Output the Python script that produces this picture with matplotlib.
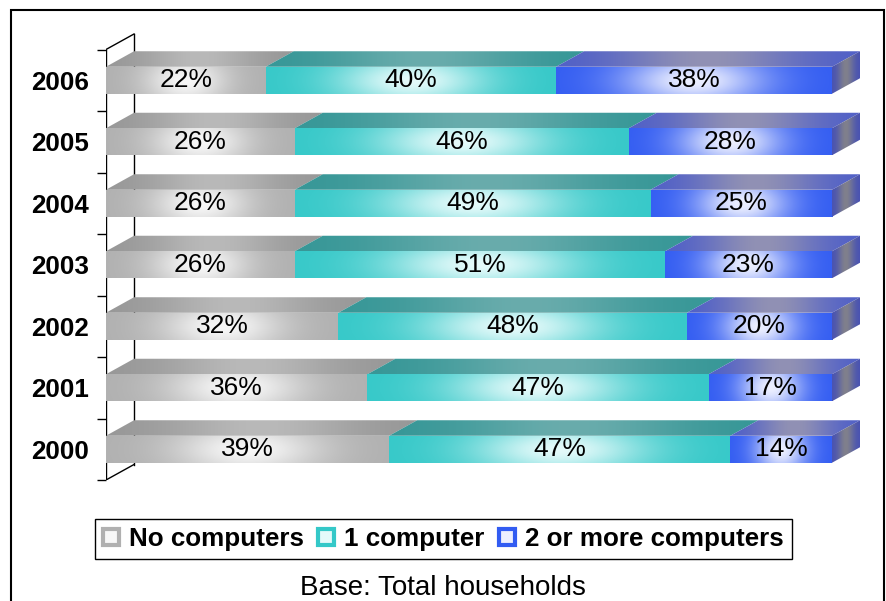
import matplotlib
matplotlib.use('Agg')
import matplotlib.pyplot as plt
from matplotlib.patches import Polygon, Patch, Rectangle
import numpy as np

years = ['2000', '2001', '2002', '2003', '2004', '2005', '2006']
no_computers = [39, 36, 32, 26, 26, 26, 22]
one_computer = [47, 47, 48, 51, 49, 46, 40]
two_or_more = [14, 17, 20, 23, 25, 28, 38]
series_names = ['No computers', '1 computer', '2 or more computers']

# (front edge, front highlight, top edge, top highlight) per series
palettes = [
    ((176, 176, 176), (247, 247, 247), (150, 150, 150), (185, 185, 185)),
    ((52, 200, 200), (228, 250, 250), (52, 150, 150), (105, 172, 172)),
    ((50, 92, 242), (236, 239, 255), (78, 94, 200), (145, 145, 180)),
]
end_cols = ((70, 80, 180), (128, 128, 140))

plt.rcParams['font.family'] = ['Liberation Sans', 'DejaVu Sans']

W, H = 886, 601
fig = plt.figure(figsize=(W / 100, H / 100), dpi=100)

# plot area: 0% sits at x=106px, 100% at 832px; rows are 61.5px apart
x0_px, px_per_pct = 106, 7.26
y0_px, px_per_row = 480, 61.5
xmax, ymax = 105, 6.8
ax = fig.add_axes([x0_px / W, 1 - y0_px / H,
                   xmax * px_per_pct / W, (ymax + 0.5) * px_per_row / H])
ax.set_facecolor('none')

dx, dy = 28 / px_per_pct, 15.5 / px_per_row   # 3D depth offset
half = 27 / px_per_row / 2                     # half bar height


def ramp(n, width):
    u = np.linspace(0, 1, n)
    return np.exp(-((u - 0.5) / width) ** 2)


def shade(base, light, w):
    base = np.array(base) / 255.0
    light = np.array(light) / 255.0
    return base + (light - base) * w[..., None]


def gradient_face(x_a, x_b, y_a, y_b, base, light, width, clip=None, vert=True):
    nx, ny = 120, 30
    w = np.tile(ramp(nx, width), (ny, 1))
    if vert:
        v = np.linspace(0, 1, ny)
        w = w * (0.78 + 0.22 * np.sin(np.pi * v))[:, None]
    img = shade(base, light, w)
    im = ax.imshow(img, extent=[x_a, x_b, y_a, y_b], origin='lower',
                   aspect='auto', interpolation='bilinear', zorder=2)
    if clip is not None:
        ax.add_patch(clip)
        clip.set_visible(False)
        im.set_clip_path(clip)
    return im


# axis wall
ax.plot([0, 0], [-0.5, 6.5], color='black', lw=1, zorder=1)
ax.plot([dx, dx], [-0.5 + dy, 6.5 + dy], color='black', lw=1, zorder=1)
ax.plot([0, dx], [6.5, 6.5 + dy], color='black', lw=1, zorder=1)
ax.plot([0, dx], [-0.5, -0.5 + dy], color='black', lw=1, zorder=1)

series = [no_computers, one_computer, two_or_more]
for i, year in enumerate(years):
    yb, yt = i - half, i + half
    left = 0
    for k, vals in enumerate(series):
        v = vals[i]
        right = left + v
        fb, fl, tb, tl = palettes[k]
        gradient_face(left, right, yb, yt, fb, fl, 0.26)
        top = Polygon([(left, yt), (right, yt), (right + dx, yt + dy),
                       (left + dx, yt + dy)], closed=True)
        gradient_face(left, right + dx, yt, yt + dy, tb, tl, 0.3,
                      clip=top, vert=False)
        ax.text((left + right) / 2, i, f'{v}%', ha='center', va='center',
                fontsize=19, zorder=5)
        left = right
    end = Polygon([(left, yb), (left + dx, yb + dy), (left + dx, yt + dy),
                   (left, yt)], closed=True)
    gradient_face(left, left + dx, yb, yt + dy, end_cols[0], end_cols[1], 0.3,
                  clip=end, vert=False)

ax.set_xlim(0, xmax)
ax.set_ylim(-0.5, ymax)
for s in ax.spines.values():
    s.set_visible(False)
ax.set_xticks([])
ax.set_yticks(range(len(years)))
ax.set_yticklabels(years, fontsize=18.7, fontweight='bold')
ax.set_yticks(np.arange(-0.5, len(years)), minor=True)
ax.tick_params(axis='y', which='major', length=0, pad=12)
ax.tick_params(axis='y', which='minor', length=6.5, width=1, color='black')

# legend
handles = [Patch(facecolor=np.array(p[1]) / 255, edgecolor=np.array(p[0]) / 255,
                 lw=3) for p in palettes]
leg = fig.legend(handles, series_names, loc='center',
                 bbox_to_anchor=(443.5 / W, 1 - 539 / H), ncol=3,
                 prop={'size': 18.7, 'weight': 'bold'}, fancybox=False,
                 edgecolor='black', framealpha=1, handlelength=0.6,
                 handleheight=0.6, handletextpad=0.4, columnspacing=0.55,
                 borderpad=0.3, borderaxespad=0)
leg.get_frame().set_linewidth(1)

fig.text(443 / W, 1 - 588 / H, 'Base: Total households', ha='center',
         va='center', fontsize=20)

# outer frame
fig.add_artist(Rectangle((11 / W, -0.02), (884 - 11) / W, (601 - 10) / H + 0.02,
                         transform=fig.transFigure, fill=False,
                         edgecolor='black', lw=1.5))

fig.savefig('out.png', dpi=100)
